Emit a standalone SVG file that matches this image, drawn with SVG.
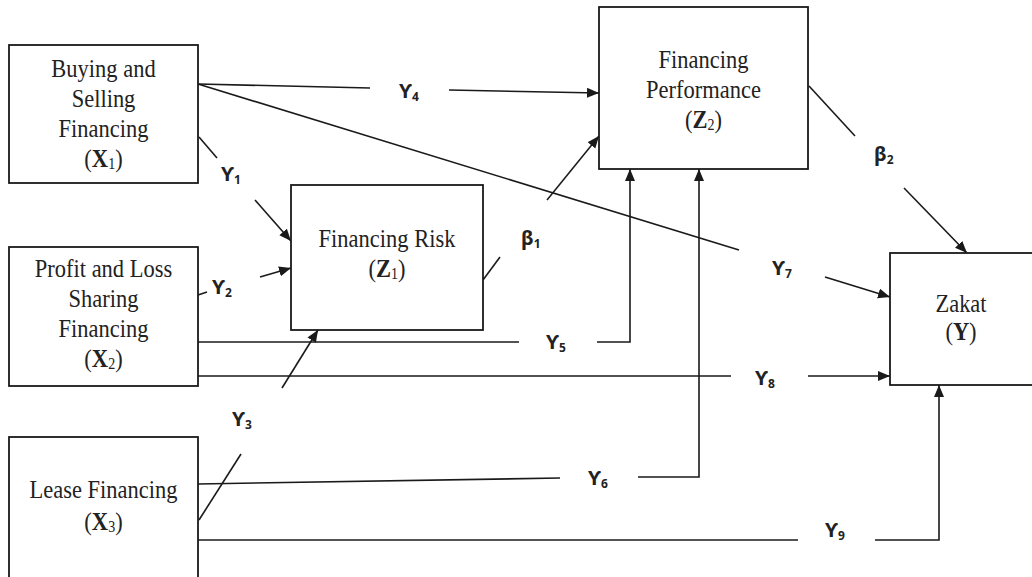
<svg xmlns="http://www.w3.org/2000/svg" width="1032" height="577" viewBox="0 0 1032 577">
<style>
.box{fill:#fff;stroke:#1a1a1a;stroke-width:1.8}
.ln{fill:none;stroke:#1a1a1a;stroke-width:1.6}
.nt{font-family:"Liberation Serif","Times New Roman",serif;font-size:22.5px;fill:#222;text-anchor:middle}
.b{font-weight:bold}
.sub{font-size:14px}
.lb{font-family:"Noto Sans","DejaVu Sans",sans-serif;font-size:20px;font-weight:bold;fill:#222}
.ls{font-size:12px}
</style>
<defs>
<marker id="ah" markerUnits="userSpaceOnUse" markerWidth="14" markerHeight="12" refX="12" refY="5" orient="auto">
<path d="M0,0 L12,5 L0,10 Z" fill="#1a1a1a"/>
</marker>
</defs>
<rect width="1032" height="577" fill="#fff"/>
<g id="connectors">
<g id="c-g1"><line class="ln" x1="199" y1="137" x2="217" y2="158"/><line class="ln" x1="255" y1="200" x2="291" y2="241" marker-end="url(#ah)"/></g>
<g id="c-g2"><line class="ln" x1="198" y1="295" x2="207" y2="292"/><line class="ln" x1="260" y1="277" x2="291" y2="268" marker-end="url(#ah)"/></g>
<g id="c-g3"><line class="ln" x1="199" y1="520" x2="241" y2="454"/><line class="ln" x1="282" y1="388" x2="318" y2="330" marker-end="url(#ah)"/></g>
<g id="c-g4"><line class="ln" x1="198" y1="84" x2="370" y2="88"/><line class="ln" x1="449" y1="90" x2="599" y2="93" marker-end="url(#ah)"/></g>
<g id="c-g5"><line class="ln" x1="198" y1="342" x2="519" y2="342"/><polyline class="ln" points="597,342 630,342 630,169" marker-end="url(#ah)"/></g>
<g id="c-g6"><line class="ln" x1="198" y1="484" x2="560" y2="478"/><polyline class="ln" points="638,477 699,477 699,169" marker-end="url(#ah)"/></g>
<g id="c-g7"><line class="ln" x1="198" y1="84" x2="739" y2="250"/><line class="ln" x1="825" y1="277" x2="890" y2="297" marker-end="url(#ah)"/></g>
<g id="c-g8"><line class="ln" x1="198" y1="376" x2="731" y2="376"/><line class="ln" x1="808" y1="376" x2="890" y2="376" marker-end="url(#ah)"/></g>
<g id="c-g9"><line class="ln" x1="198" y1="540" x2="798" y2="540"/><polyline class="ln" points="875,540 939,540 939,385" marker-end="url(#ah)"/></g>
<g id="c-b1"><line class="ln" x1="483" y1="280" x2="500" y2="257"/><line class="ln" x1="547" y1="200" x2="599" y2="136" marker-end="url(#ah)"/></g>
<g id="c-b2"><line class="ln" x1="809" y1="86" x2="855" y2="136"/><line class="ln" x1="904" y1="188" x2="967" y2="253" marker-end="url(#ah)"/></g>
<g id="labels">
<text class="lb" x="221" y="181">ϒ<tspan class="ls" dy="3">1</tspan></text>
<text class="lb" x="212" y="294">ϒ<tspan class="ls" dy="3">2</tspan></text>
<text class="lb" x="232" y="426">ϒ<tspan class="ls" dy="3">3</tspan></text>
<text class="lb" x="399" y="98">ϒ<tspan class="ls" dy="3">4</tspan></text>
<text class="lb" x="546" y="349">ϒ<tspan class="ls" dy="3">5</tspan></text>
<text class="lb" x="588" y="485">ϒ<tspan class="ls" dy="3">6</tspan></text>
<text class="lb" x="772" y="275">ϒ<tspan class="ls" dy="3">7</tspan></text>
<text class="lb" x="755" y="385">ϒ<tspan class="ls" dy="3">8</tspan></text>
<text class="lb" x="825" y="537">ϒ<tspan class="ls" dy="3">9</tspan></text>
<text class="lb" x="521" y="245">β<tspan class="ls" dy="3">1</tspan></text>
<text class="lb" x="874" y="161">β<tspan class="ls" dy="3">2</tspan></text>
</g>
</g>
<g id="X1">
<rect class="box" x="9" y="45" width="189" height="138"/>
<text class="nt" transform="translate(103.5,77) scale(1,1.15)"><tspan x="0" y="0">Buying and</tspan><tspan x="0" dy="26.1">Selling</tspan><tspan x="0" dy="26.1">Financing</tspan><tspan x="0" dy="26.1">(<tspan class="b">X</tspan><tspan class="sub" dy="2">1</tspan><tspan dy="-2">)</tspan></tspan></text>
</g>
<g id="X2">
<rect class="box" x="9" y="247" width="189" height="139"/>
<text class="nt" transform="translate(103.5,277) scale(1,1.15)"><tspan x="0" y="0">Profit and Loss</tspan><tspan x="0" dy="26.1">Sharing</tspan><tspan x="0" dy="26.1">Financing</tspan><tspan x="0" dy="26.1">(<tspan class="b">X</tspan><tspan class="sub" dy="2">2</tspan><tspan dy="-2">)</tspan></tspan></text>
</g>
<g id="X3">
<rect class="box" x="9" y="437" width="189" height="160"/>
<text class="nt" transform="translate(103.5,498) scale(1,1.15)"><tspan x="0" y="0">Lease Financing</tspan><tspan x="0" dy="27.8">(<tspan class="b">X</tspan><tspan class="sub" dy="2">3</tspan><tspan dy="-2">)</tspan></tspan></text>
</g>
<g id="Z1">
<rect class="box" x="291" y="185" width="192" height="145"/>
<text class="nt" transform="translate(387,247) scale(1,1.15)"><tspan x="0" y="0">Financing Risk</tspan><tspan x="0" dy="26.1">(<tspan class="b">Z</tspan><tspan class="sub" dy="2">1</tspan><tspan dy="-2">)</tspan></tspan></text>
</g>
<g id="Z2">
<rect class="box" x="599" y="7" width="209" height="162"/>
<text class="nt" transform="translate(703.5,68) scale(1,1.15)"><tspan x="0" y="0">Financing</tspan><tspan x="0" dy="26.1">Performance</tspan><tspan x="0" dy="26.1">(<tspan class="b">Z</tspan><tspan class="sub" dy="2">2</tspan><tspan dy="-2">)</tspan></tspan></text>
</g>
<g id="Y">
<rect class="box" x="890" y="253" width="160" height="132"/>
<text class="nt" transform="translate(961,312) scale(1,1.15)"><tspan x="0" y="0">Zakat</tspan><tspan x="0" dy="24.3">(<tspan class="b">Y</tspan>)</tspan></text>
</g>
</svg>
